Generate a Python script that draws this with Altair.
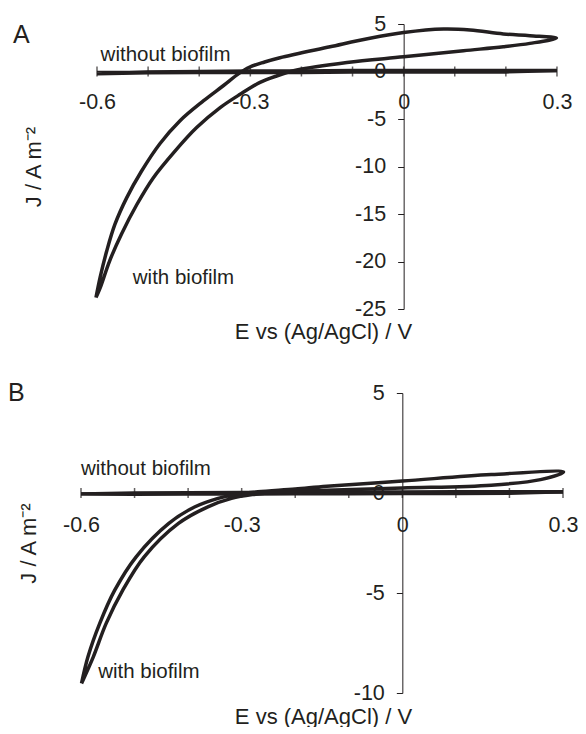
import altair as alt
import pandas as pd

INK = "#231f20"
FONT = "Liberation Sans"

# ---------------- data ----------------
x_ticks = [-0.6, -0.5, -0.4, -0.3, -0.2, -0.1, 0.0, 0.1, 0.2, 0.3]
x_labels = [-0.6, -0.3, 0.0, 0.3]

# Panel A, with biofilm: closed CV loop in drawing order
a_bio_E = [-0.602, -0.594, -0.581, -0.565, -0.542, -0.513, -0.477, -0.438, -0.392, -0.353,
           -0.322, -0.302, -0.272, -0.242, -0.144, -0.066, 0.0, 0.078, 0.130, 0.195, 0.247, 0.299,
           0.247, 0.195, 0.117, 0.0, -0.111, -0.209, -0.250, -0.281, -0.320, -0.359, -0.405,
           -0.447, -0.490, -0.522, -0.552, -0.575, -0.594, -0.602]
a_bio_J = [-23.8, -21.7, -18.9, -16.1, -13.3, -10.5, -7.6, -5.2, -3.1, -1.5,
           -0.2, 0.45, 1.0, 1.45, 2.6, 3.5, 4.1, 4.47, 4.37, 3.95, 3.77, 3.52,
           2.96, 2.6, 2.19, 1.55, 0.95, 0.15, -0.5, -1.15, -2.4, -3.8, -5.9,
           -8.35, -11.2, -14.0, -17.1, -19.9, -22.8, -23.8]
# Panel A, without biofilm
a_wo_E = [-0.6, -0.5, -0.4, -0.3, -0.2, -0.1, 0.0, 0.1, 0.2, 0.3,
          0.2, 0.1, 0.0, -0.1, -0.2, -0.3, -0.4, -0.5, -0.6]
a_wo_J = [-0.25, -0.05, 0.0, 0.05, 0.05, 0.1, 0.1, 0.1, 0.1, 0.1,
          -0.05, -0.05, -0.05, -0.05, -0.1, -0.1, -0.1, -0.15, -0.25]
a_y_ticks = [-25, -20, -15, -10, -5, 0, 5]

# Panel B, with biofilm
b_bio_E = [-0.599, -0.587, -0.565, -0.537, -0.497, -0.436, -0.387, -0.344, -0.310, -0.270,
           -0.200, -0.141, 0.0, 0.166, 0.301,
           0.258, 0.166, 0.0, -0.141, -0.220, -0.280, -0.319, -0.363, -0.418, -0.482,
           -0.522, -0.553, -0.577, -0.599]
b_bio_J = [-9.52, -8.19, -6.52, -4.86, -3.19, -1.52, -0.69, -0.27, -0.06, 0.06,
           0.2, 0.34, 0.6, 0.92, 1.05,
           0.67, 0.39, 0.25, 0.14, 0.06, -0.08, -0.27, -0.69, -1.52, -3.19,
           -4.86, -6.52, -8.19, -9.52]
# Panel B, without biofilm
b_wo_E = [-0.6, -0.5, -0.4, -0.3, -0.2, -0.1, 0.0, 0.1, 0.2, 0.3,
          0.2, 0.1, 0.0, -0.1, -0.2, -0.3, -0.4, -0.5, -0.6]
b_wo_J = [-0.05, 0.0, 0.02, 0.03, 0.04, 0.05, 0.05, 0.06, 0.06, 0.06,
          -0.02, -0.03, -0.03, -0.04, -0.04, -0.05, -0.05, -0.06, -0.05]
b_y_ticks = [-10, -5, 0, 5]

ann_text = ["without biofilm", "with biofilm"]
a_ann_E = [-0.593, -0.530]
a_ann_J = [1.13, -22.37]
b_ann_E = [-0.600, -0.568]
b_ann_J = [0.89, -9.25]

# panel letters (placed in each panel's data space, left of the axes)
a_letter = {"t": ["A"], "E": [-0.7645], "J": [3.03]}
b_letter = {"t": ["B"], "E": [-0.7363], "J": [4.61]}


def panel(letter, bio_E, bio_J, wo_E, wo_J, x_dom, y_dom, y_ticks, W, H,
          ann_E, ann_J, lab_pad, x_title_y, y_title_x):
    xs = alt.Scale(domain=x_dom, nice=False, zero=False)
    ys = alt.Scale(domain=y_dom, nice=False, zero=False)
    y0_from_bottom = H * (0 - y_dom[0]) / (y_dom[1] - y_dom[0])
    x0_from_left = W * (0 - x_dom[0]) / (x_dom[1] - x_dom[0])

    bio = pd.DataFrame({"E": bio_E, "J": bio_J, "i": range(len(bio_E))})
    wo = pd.DataFrame({"E": wo_E, "J": wo_J, "i": range(len(wo_E))})

    x_axis = alt.Axis(values=x_labels, labelExpr="'' + datum.value", offset=-y0_from_bottom,
                      domain=False, ticks=False, tickSize=0, grid=False,
                      labelPadding=lab_pad, labelBaseline="alphabetic", labelFontSize=21.5,
                      labelFont=FONT, labelColor=INK, labelFlush=False, labelOverlap=False,
                      title="E vs (Ag/AgCl) / V", titleFont=FONT, titleFontSize=22,
                      titleFontWeight="normal", titleColor=INK, titleBaseline="alphabetic",
                      titleX=242, titleY=x_title_y)
    y_axis = alt.Axis(values=y_ticks, labelExpr="'' + datum.value", offset=-x0_from_left,
                      domainColor=INK, domainWidth=1, tickColor=INK, tickSize=6, tickWidth=1,
                      grid=False, labelPadding=12, labelFontSize=21.5, labelFont=FONT,
                      labelColor=INK, labelOverlap=False, labelFlush=False,
                      title="J / A m\u207b\u00b2", titleFont=FONT, titleFontSize=22,
                      titleFontWeight="normal", titleColor=INK, titleAngle=270,
                      titleAlign="center", titleBaseline="middle",
                      titleX=y_title_x, titleY=H / 2)

    bio_line = alt.Chart(bio).mark_line(color=INK, strokeWidth=3.5, interpolate="catmull-rom").encode(
        x=alt.X("E:Q", scale=xs, axis=x_axis),
        y=alt.Y("J:Q", scale=ys, axis=y_axis),
        order="i:Q",
    )
    wo_line = alt.Chart(wo).mark_line(color=INK, strokeWidth=3.4).encode(
        x="E:Q", y="J:Q", order="i:Q"
    )
    axis_line = alt.Chart(pd.DataFrame({"E": [min(x_ticks)], "E2": [max(x_ticks)], "J": [0]})).mark_rule(
        color=INK, strokeWidth=1.5).encode(x="E:Q", x2="E2:Q", y="J:Q")
    ticks = alt.Chart(pd.DataFrame({"E": x_ticks, "J": [0] * len(x_ticks)})).mark_tick(
        orient="vertical", size=10, thickness=1.5, color=INK).encode(x="E:Q", y="J:Q")
    texts = alt.Chart(pd.DataFrame({"E": ann_E, "J": ann_J, "t": ann_text})).mark_text(
        align="left", baseline="alphabetic", font=FONT, fontSize=20.5, color=INK).encode(
        x="E:Q", y="J:Q", text="t:N")
    letter_mark = alt.Chart(pd.DataFrame(letter)).mark_text(
        align="left", baseline="alphabetic", font=FONT, fontSize=25, color=INK).encode(
        x="E:Q", y="J:Q", text="t:N")

    return alt.layer(axis_line, ticks, wo_line, bio_line, texts, letter_mark).properties(
        width=W, height=H)


W = 482
chart_a = panel(a_letter, a_bio_E, a_bio_J, a_wo_E, a_wo_J, [-0.6313, 0.3118], [-25, 5], a_y_ticks,
                W, 285, a_ann_E, a_ann_J, 37, 267, -370)
chart_b = panel(b_letter, b_bio_E, b_bio_J, b_wo_E, b_wo_J, [-0.6, 0.3], [-10, 5], b_y_ticks,
                W, 300, b_ann_E, b_ann_J, 38, 230, -374)

chart = alt.vconcat(chart_a, chart_b, spacing=84, bounds="flush").properties(
    padding={"left": 0, "top": 5, "right": 0, "bottom": 0}
).configure_view(stroke=None)

chart.save("out.html", embed_options={"renderer": "svg", "actions": False})
